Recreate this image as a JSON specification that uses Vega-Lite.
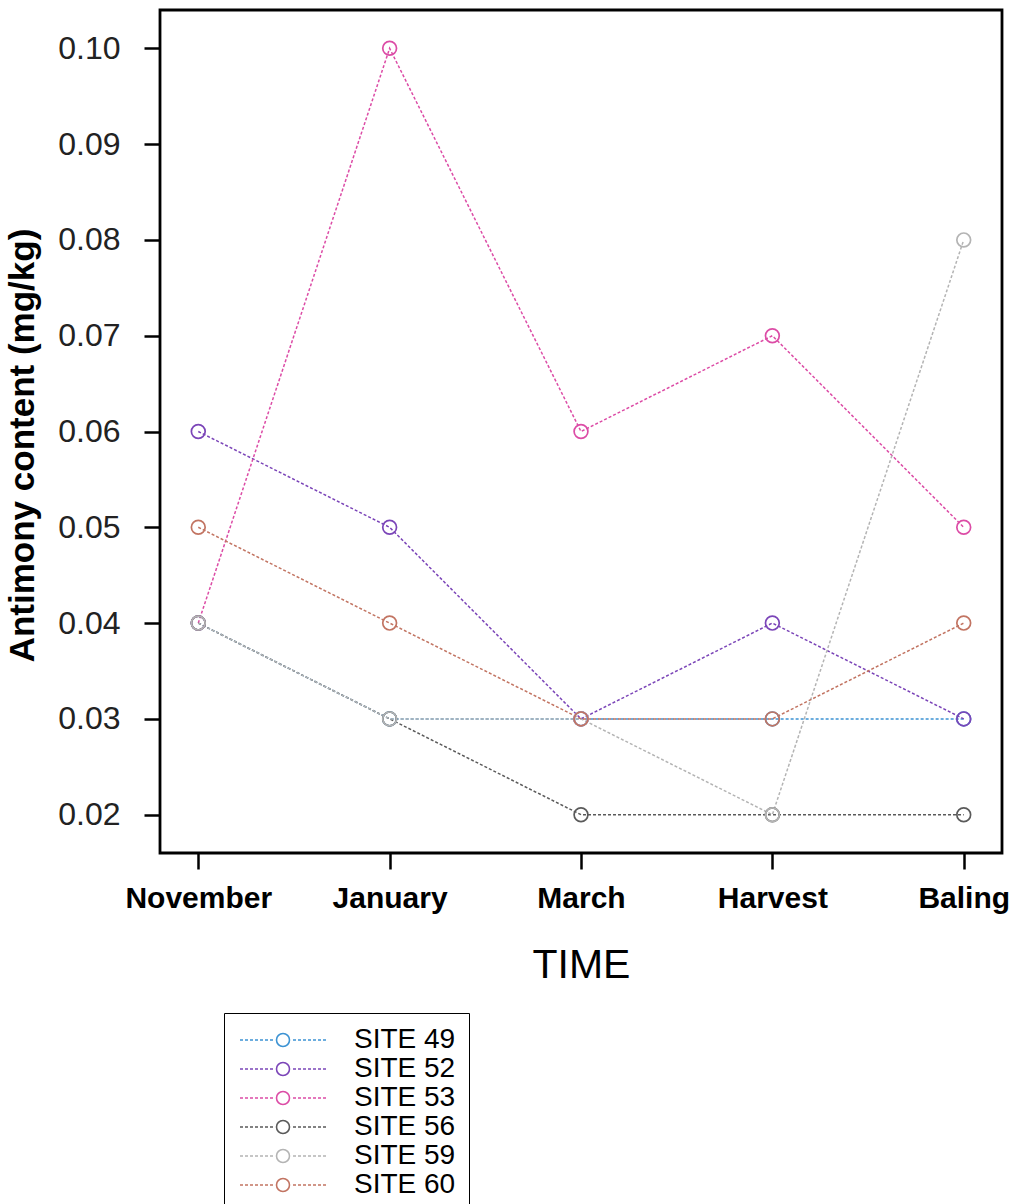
{
  "$schema": "https://vega.github.io/schema/vega-lite/v6.json",
  "autosize": {"type": "none"},
  "width": 842,
  "height": 843,
  "padding": {"left": 160, "top": 10, "right": 14, "bottom": 351},
  "background": "white",
  "config": {
    "view": {"stroke": "black", "strokeWidth": 2.8},
    "font": "Liberation Sans",
    "axis": {"grid": false, "domain": false, "tickColor": "black", "tickWidth": 2.5, "tickSize": 16}
  },
  "data": {
    "values": [
      {"site": "SITE 49", "time": "November", "value": 0.04},
      {"site": "SITE 49", "time": "January", "value": 0.03},
      {"site": "SITE 49", "time": "March", "value": 0.03},
      {"site": "SITE 49", "time": "Harvest", "value": 0.03},
      {"site": "SITE 49", "time": "Baling", "value": 0.03},
      {"site": "SITE 52", "time": "November", "value": 0.06},
      {"site": "SITE 52", "time": "January", "value": 0.05},
      {"site": "SITE 52", "time": "March", "value": 0.03},
      {"site": "SITE 52", "time": "Harvest", "value": 0.04},
      {"site": "SITE 52", "time": "Baling", "value": 0.03},
      {"site": "SITE 53", "time": "November", "value": 0.04},
      {"site": "SITE 53", "time": "January", "value": 0.10},
      {"site": "SITE 53", "time": "March", "value": 0.06},
      {"site": "SITE 53", "time": "Harvest", "value": 0.07},
      {"site": "SITE 53", "time": "Baling", "value": 0.05},
      {"site": "SITE 56", "time": "November", "value": 0.04},
      {"site": "SITE 56", "time": "January", "value": 0.03},
      {"site": "SITE 56", "time": "March", "value": 0.02},
      {"site": "SITE 56", "time": "Harvest", "value": 0.02},
      {"site": "SITE 56", "time": "Baling", "value": 0.02},
      {"site": "SITE 59", "time": "November", "value": 0.04},
      {"site": "SITE 59", "time": "January", "value": 0.03},
      {"site": "SITE 59", "time": "March", "value": 0.03},
      {"site": "SITE 59", "time": "Harvest", "value": 0.02},
      {"site": "SITE 59", "time": "Baling", "value": 0.08},
      {"site": "SITE 60", "time": "November", "value": 0.05},
      {"site": "SITE 60", "time": "January", "value": 0.04},
      {"site": "SITE 60", "time": "March", "value": 0.03},
      {"site": "SITE 60", "time": "Harvest", "value": 0.03},
      {"site": "SITE 60", "time": "Baling", "value": 0.04}
    ]
  },
  "encoding": {
    "x": {
      "field": "time", "type": "ordinal",
      "sort": ["November", "January", "March", "Harvest", "Baling"],
      "scale": {"type": "point", "padding": 0.2},
      "axis": {
        "title": "TIME", "labelAngle": 0,
        "labelFontSize": 30, "labelFontWeight": "bold", "labelColor": "black", "labelPadding": 14,
        "titleFontSize": 41, "titleFontWeight": "normal", "titleColor": "black",
        "titleY": 112, "titleBaseline": "middle"
      }
    },
    "y": {
      "field": "value", "type": "quantitative",
      "scale": {"domain": [0.016, 0.104], "nice": false, "zero": false},
      "axis": {
        "title": "Antimony content (mg/kg)",
        "values": [0.02, 0.03, 0.04, 0.05, 0.06, 0.07, 0.08, 0.09, 0.10],
        "format": ".2f",
        "labelFontSize": 32, "labelColor": "#222", "labelPadding": 24,
        "titleFontSize": 35, "titleFontWeight": "bold", "titleColor": "black",
        "titleX": -138, "titleY": 435, "titleBaseline": "middle", "titleAngle": -90
      }
    },
    "color": {
      "field": "site", "type": "nominal",
      "scale": {
        "domain": ["SITE 49", "SITE 52", "SITE 53", "SITE 56", "SITE 59", "SITE 60"],
        "range": ["#3d93d3", "#7b45b8", "#dc4ca6", "#5a5a5a", "#b4b4b4", "#c27462"]
      },
      "legend": {
        "title": null,
        "orient": "none",
        "legendX": 64,
        "legendY": 1003,
        "strokeColor": "black",
        "padding": 13,
        "labelFontSize": 28,
        "labelColor": "black",
        "labelOffset": 57,
        "symbolOffset": 32,
        "rowPadding": 1,
        "symbolSize": 400,
        "symbolStrokeWidth": 1.6,
        "symbolFillColor": "transparent",
        "symbolType": "M-4.3,0H-4.0M-3.8,0H-3.5M-3.3,0H-3.0M-2.8,0H-2.5M-2.3,0H-2.0M-1.8,0H-1.5M-1.3,0H-1.0M1.0,0H1.3M1.5,0H1.8M2.0,0H2.3M2.5,0H2.8M3.0,0H3.3M3.5,0H3.8M4.0,0H4.3M-0.65,0A0.65,0.65 0 1,1 0.65,0A0.65,0.65 0 1,1 -0.65,0Z"
      }
    }
  },
  "layer": [
    {"mark": {"type": "line", "strokeWidth": 1.5, "strokeDash": [3, 2]}},
    {"mark": {"type": "point", "shape": "circle", "filled": false, "size": 190, "strokeWidth": 1.7, "opacity": 1}}
  ]
}
